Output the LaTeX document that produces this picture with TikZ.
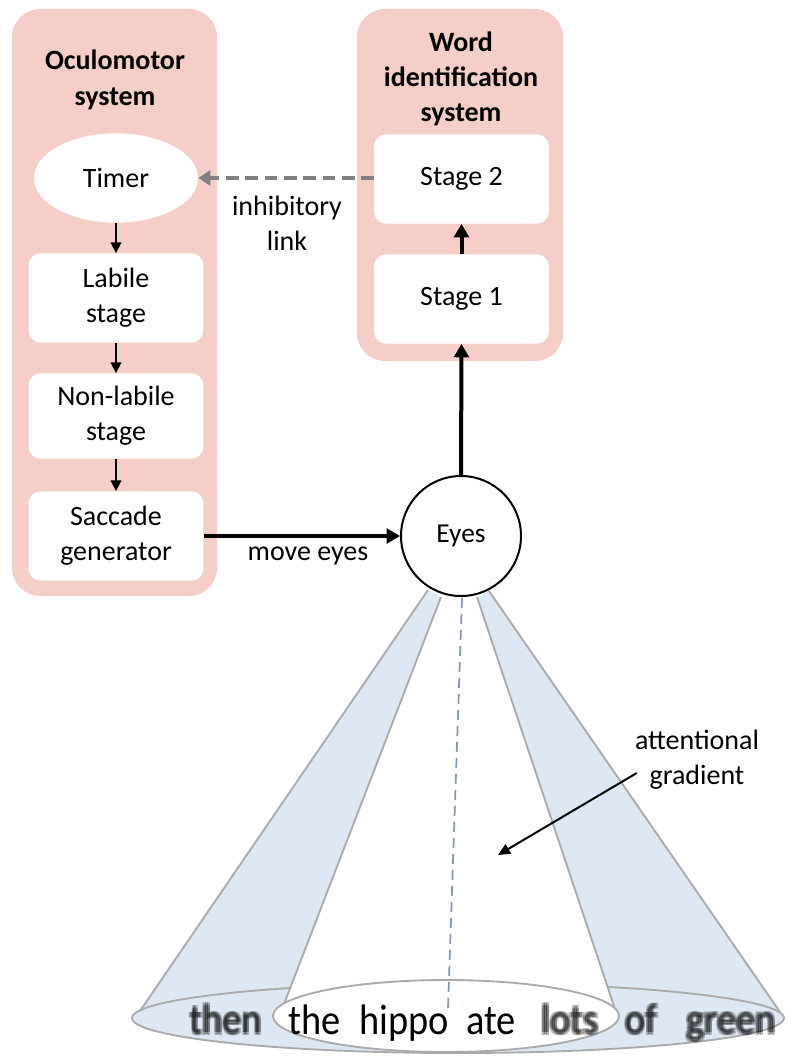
\documentclass[tikz,border=0pt]{standalone}
\usepackage{fontspec}
\setmainfont{Carlito}
\usetikzlibrary{arrows.meta,shapes.geometric}

\definecolor{panelpink}{RGB}{245,207,199}
\definecolor{bandblue}{RGB}{222,232,245}
\definecolor{conegray}{RGB}{170,170,170}
\definecolor{axisblue}{RGB}{132,151,176}
\definecolor{inhibgray}{RGB}{128,128,128}

\newcommand\dgtext{\fontsize{21}{26.5}\selectfont}
\newcommand\dgtitle{\fontsize{21}{26.5}\selectfont\bfseries}
\newcommand\dgeyes{\fontsize{20.5}{24}\selectfont}
\newcommand\dgword{\fontsize{32}{38}\selectfont}
% a word set several times with small offsets, for out-of-focus text
\newcommand\fuzzy[1]{%
  \rlap{\hspace{-1.5pt}\raisebox{1.1pt}{#1}}%
  \rlap{\hspace{1.5pt}\raisebox{-1.1pt}{#1}}%
  \rlap{\hspace{-1.5pt}\raisebox{-1.1pt}{#1}}%
  \rlap{\hspace{1.5pt}\raisebox{1.1pt}{#1}}%
  \rlap{\raisebox{1.5pt}{#1}}%
  #1}

\begin{document}
\begin{tikzpicture}[x=0.75pt,y=-0.75pt,
  panel/.style={fill=panelpink,rounded corners=21pt},
  stagebox/.style={fill=white,rounded corners=9pt,minimum width=131pt,
    minimum height=67pt,align=center,font=\dgtext,inner sep=0pt},
  titletext/.style={align=center,font=\dgtitle,inner sep=0pt},
  plaintext/.style={align=center,font=\dgtext,inner sep=0pt},
  smallarrow/.style={line width=1.2pt,-{Triangle[length=8pt,width=8pt]}},
  bigarrow/.style={line width=3pt,-{Triangle[length=10pt,width=11pt]}},
  inhibarrow/.style={line width=3pt,inhibgray,dash pattern=on 9.5pt off 5pt,
    -{Triangle[length=9pt,width=11pt]}},
  coneline/.style={draw=conegray,line width=1.4pt},
  word/.style={font=\dgword,anchor=base,inner sep=0pt,xscale=0.9},
  blurword/.style={word,text=black,text opacity=0.28}]

\useasboundingbox (0,0) rectangle (797,1056);

% ---------- attention cone and the line of text ----------
% blue side bands of the gradient
\fill[bandblue] (428,590) -- (140,1011) -- (284,1004) -- (441,597) -- cycle;
\fill[bandblue] (489,591) -- (780,1012) -- (614,1006) -- (477,597) -- cycle;
% the whole line of text
\draw[conegray,line width=1.4pt,fill=bandblue] (458,1018) ellipse [x radius=326,y radius=35];
% white central region
\fill[white] (441,597) -- (284,1004) -- (614,1006) -- (477,597) -- cycle;
% edges of the cone
\draw[coneline] (428,590) -- (140,1011);
\draw[coneline] (489,591) -- (780,1012);
\draw[coneline] (441,597) -- (284,1004);
\draw[coneline] (477,597) -- (614,1006);
% foveal region
\draw[conegray,line width=1.4pt,fill=white] (446,1016) ellipse [x radius=173,y radius=36];
% line of sight
\draw[axisblue,line width=1.3pt,dash pattern=on 7.5pt off 4.5pt] (462,598) -- (448,1008);

% words: sharp in the fovea, blurred outside it
\node[blurword] (wthen) at (226,1034) {\fuzzy{then}};
\node[word] (wthe) at (315,1034) {the};
\node[word] (whippo) at (404,1034) {hippo};
\node[word] (wate) at (491,1034) {ate};
\node[blurword] (wlots) at (570,1034) {\fuzzy{lots}};
\node[blurword] (wof) at (641,1034) {\fuzzy{of}};
\node[blurword] (wgreen) at (731,1034) {\fuzzy{green}};

% ---------- Oculomotor system ----------
\fill[panel] (12,9) rectangle (217,596);
\node[titletext] (octitle) at (115,80) {Oculomotor\\system};
\node[ellipse,fill=white,minimum width=123pt,minimum height=67pt,font=\dgtext,inner sep=0pt]
  (timer) at (116,178) {Timer};
\node[stagebox] (labile) at (116,298) {Labile\\stage};
\node[stagebox,minimum height=64pt] (nonlabile) at (116,416) {Non-labile\\stage};
\node[stagebox] (saccade) at (116,536) {Saccade\\generator};

\draw[smallarrow] (timer.south) -- (labile.north);
\draw[smallarrow] (labile.south) -- (nonlabile.north);
\draw[smallarrow] (nonlabile.south) -- (saccade.north);

% ---------- Word identification system ----------
\fill[panel] (357,9) rectangle (563,361);
\node[titletext] (wititle) at (461,79) {Word\\identification\\system};
\node[stagebox] (stagetwo) at (461.5,179) {Stage 2};
\node[stagebox] (stageone) at (461.5,299) {Stage 1};

\draw[bigarrow] (stageone.north) -- (stagetwo.south);

% ---------- eyes ----------
\node[circle,draw=black,line width=1.5pt,fill=white,minimum size=90pt,
  font=\dgeyes,inner sep=0pt] (eyes) at (461,536) {Eyes};

\draw[bigarrow] (eyes.north) -- (stageone.south);
\draw[bigarrow] (saccade.east) -- (eyes.west);
\node[plaintext] (moveeyes) at (308,556) {move eyes};

\draw[inhibarrow] (stagetwo.west |- timer.east) -- (timer.east);
\node[plaintext] (inhib) at (287,223) {inhibitory\\link};

% ---------- attentional gradient label ----------
\node[plaintext] (grad) at (697,760) {attentional\\gradient};
\coordinate (gradtip) at (498,855);
\draw[line width=1.5pt,-{Triangle[length=9pt,width=8pt]}]
  ([shift={(2,13)}]grad.west) -- (gradtip);

\end{tikzpicture}
\end{document}
